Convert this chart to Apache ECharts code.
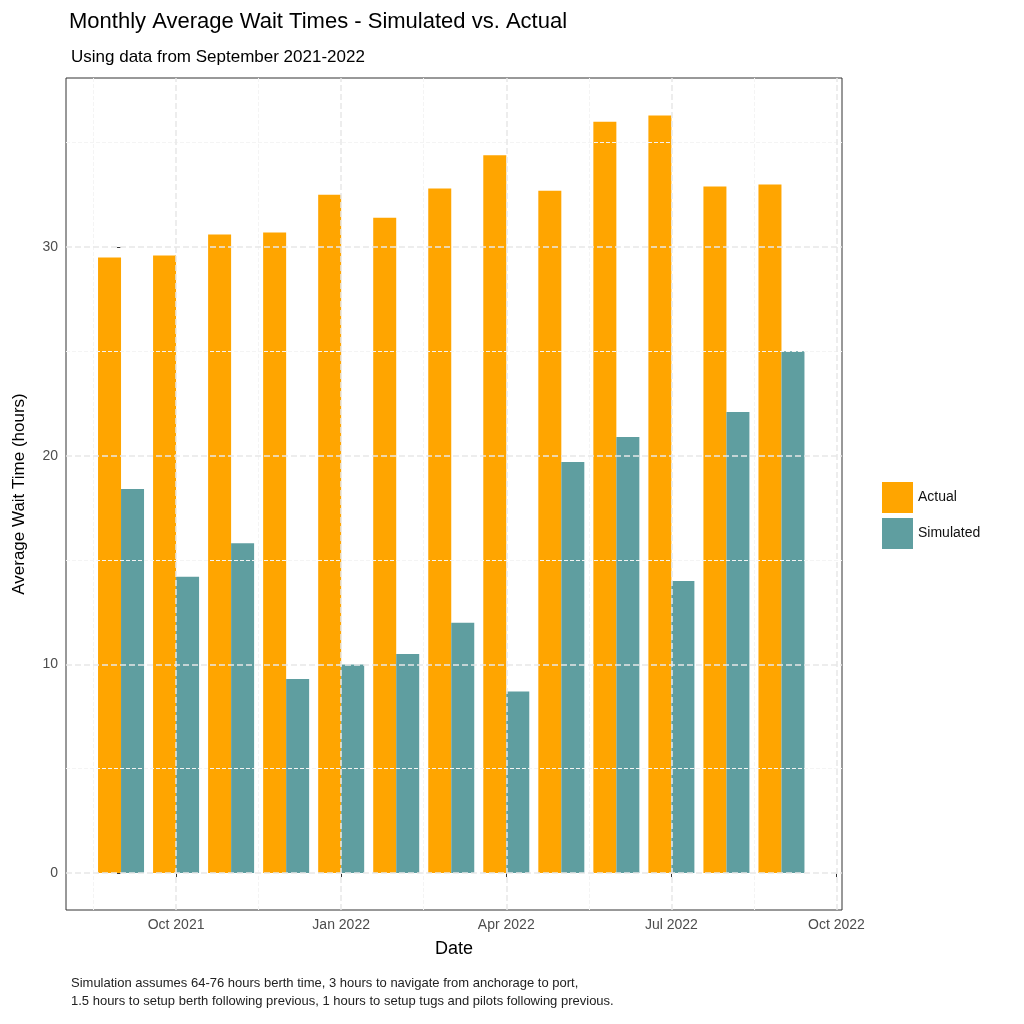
<!DOCTYPE html>
<html><head><meta charset="utf-8">
<script src="https://cdn.jsdelivr.net/npm/echarts@6/dist/echarts.min.js"></script>
<style>html,body{margin:0;padding:0;background:#fff}#c{width:1024px;height:1024px}</style>
</head><body><div id="c"></div>
<script>
// months as index from Sep 2021 (0) to Sep 2022 (12)
var monthIdx = [0,1,2,3,4,5,6,7,8,9,10,11,12];
var actual = [29.5,29.6,30.6,30.7,32.5,31.4,32.8,34.4,32.7,36.0,36.3,32.9,33.0];
var simulated = [18.4,14.2,15.8,9.3,10.0,10.5,12.0,8.7,19.7,20.9,14.0,22.1,25.0];
var xTicks = [1,4,7,10,13];
var xTickLabels = ['Oct 2021','Jan 2022','Apr 2022','Jul 2022','Oct 2022'];
var xMinor = [-0.5,2.5,5.5,8.5,11.5];
var yTicks = [0,10,20,30];
var yMinor = [5,15,25,35];

var dom = document.getElementById('c');
var myChart = echarts.init(dom);
var font = 'Liberation Sans, Arial, sans-serif';

function pairs(vals){ return monthIdx.map(function(m,i){ return [m, vals[i]]; }); }
var gridLines = []
	.concat(yMinor.map(function(v){ return {yAxis:v, lineStyle:{color:'#f4f4f4',width:1}}; }))
	.concat(xMinor.map(function(v){ return {xAxis:v, lineStyle:{color:'#f4f4f4',width:1}}; }))
	.concat(yTicks.map(function(v){ return {yAxis:v, lineStyle:{color:'#e8e8e8',width:1.5}}; }))
	.concat(xTicks.map(function(v){ return {xAxis:v, lineStyle:{color:'#e8e8e8',width:1.5}}; }));

var option = {
	animation: false,
	textStyle: {fontFamily: font},
	title: [{
		text: 'Monthly Average Wait Times - Simulated vs. Actual',
		left: 64, top: 6,
		textStyle: {fontSize: 22, fontWeight: 'normal', color: '#000'}
	}, {
		text: 'Using data from September 2021-2022',
		left: 66, top: 44,
		textStyle: {fontSize: 17, fontWeight: 'normal', color: '#000'}
	}, {
		text: 'Simulation assumes 64-76 hours berth time, 3 hours to navigate from anchorage to port,\n1.5 hours to setup berth following previous, 1 hours to setup tugs and pilots following previous.',
		left: 66, top: 969,
		textStyle: {fontSize: 13, fontWeight: 'normal', color: '#222', lineHeight: 18}
	}],
	legend: {
		data: ['Actual','Simulated'],
		orient: 'vertical', left: 877, top: 477,
		itemWidth: 31, itemHeight: 31, itemGap: 5,
		icon: 'rect',
		textStyle: {fontSize: 14, color: '#111'}
	},
	grid: {left: 66, right: 182, top: 78, bottom: 114, show: true, borderColor: '#333', borderWidth: 1},
	xAxis: {
		type: 'value', min: -1, max: 13.1,
		name: 'Date', nameLocation: 'middle', nameGap: 30,
		nameTextStyle: {fontSize: 18, color: '#000'},
		splitLine: {show: false},
		axisLine: {show: false},
		axisTick: {show: true, customValues: xTicks, length: 4, lineStyle: {color: '#333'}},
		axisLabel: {customValues: xTicks, fontSize: 14, color: '#4d4d4d', margin: 8,
			formatter: function(v){ return xTickLabels[xTicks.indexOf(v)] || ''; }}
	},
	yAxis: {
		type: 'value', min: -1.77, max: 38.1,
		name: 'Average Wait Time (hours)', nameLocation: 'middle', nameGap: 38,
		nameTextStyle: {fontSize: 17, color: '#000'},
		splitLine: {show: false},
		axisLine: {show: false},
		axisTick: {show: true, customValues: yTicks, length: 4, lineStyle: {color: '#333'}},
		axisLabel: {customValues: yTicks, fontSize: 14, color: '#4d4d4d', margin: 8}
	},
	series: [{
		type: 'line', data: [], silent: true, z: 0,
		markLine: {silent: true, symbol: 'none', label: {show: false}, data: gridLines}
	}, {
		name: 'Actual', type: 'bar', data: pairs(actual), barWidth: 23, barGap: '0%', z: 2,
		itemStyle: {color: '#FFA500'}
	}, {
		name: 'Simulated', type: 'bar', data: pairs(simulated), barWidth: 23, barGap: '0%', z: 2,
		itemStyle: {color: '#5F9EA0'}
	}]
};
myChart.setOption(option, true);
</script></body></html>
